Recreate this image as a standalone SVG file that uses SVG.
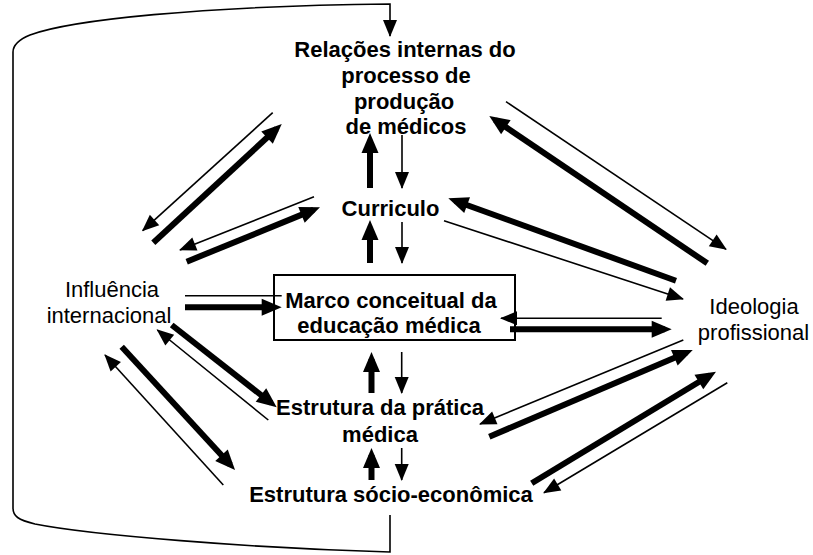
<svg xmlns="http://www.w3.org/2000/svg" width="813" height="555" viewBox="0 0 813 555">
<style>
text{font-family:"Liberation Sans",Arial,sans-serif;font-size:22px;fill:#000;text-anchor:middle}
.b{font-weight:bold}
.thick{stroke:#000;stroke-width:6;fill:none;marker-end:url(#hk)}
.thin{stroke:#000;stroke-width:1.6;fill:none;marker-end:url(#hn)}
.plain{stroke:#000;stroke-width:1.6;fill:none}
.box{fill:none;stroke:#000;stroke-width:2}
</style>
<defs>
<marker id="hk" markerUnits="userSpaceOnUse" markerWidth="20" markerHeight="17" refX="13" refY="8.5" orient="auto" overflow="visible">
<path d="M0,0 L20,8.5 L0,17 z" fill="#000"/>
</marker>
<marker id="hn" markerUnits="userSpaceOnUse" markerWidth="17" markerHeight="14" refX="16" refY="7" orient="auto" overflow="visible">
<path d="M0,0 L17,7 L0,14 z" fill="#000"/>
</marker>
</defs>
<g id="marco">
<rect class="box" x="274" y="275" width="241" height="65"/>
<text class="b" x="391" y="308">Marco conceitual da</text>
<text class="b" x="389" y="333">educação médica</text>
</g>
<g id="connectors">
<path class="thin" d="M390,515 L390,552 C250,548 90,535 35,524 C18,520 13,516 13,508 L13,52 C13,45 18,40 30,35 C70,20 200,6 390,4 L390,36"/>
<line class="thick" x1="370" y1="188" x2="370" y2="140"/>
<line class="thick" x1="370" y1="263" x2="370" y2="227"/>
<line class="thick" x1="371.5" y1="393" x2="371.5" y2="359"/>
<line class="thick" x1="371.5" y1="480" x2="371.5" y2="455"/>
<line class="thin" x1="402" y1="135" x2="402" y2="188"/>
<line class="thin" x1="402" y1="222" x2="402" y2="263"/>
<line class="thin" x1="401.7" y1="352" x2="401.7" y2="393"/>
<line class="thin" x1="401.7" y1="448" x2="401.7" y2="480"/>
<line class="thick" x1="153.3" y1="242.7" x2="276.6" y2="128.8"/>
<line class="thin" x1="272.7" y1="112.7" x2="142.7" y2="230.7"/>
<line class="thick" x1="186.7" y1="261.7" x2="313.5" y2="209.9"/>
<line class="thin" x1="314" y1="196.7" x2="180" y2="250"/>
<line class="plain" x1="185" y1="295.7" x2="281.7" y2="295.7"/>
<line class="thick" x1="185" y1="307.3" x2="274.7" y2="307.3"/>
<line class="thin" x1="661.7" y1="318.3" x2="501" y2="318.3"/>
<line class="thick" x1="510" y1="329.3" x2="664.7" y2="329.3"/>
<line class="thin" x1="506" y1="101.7" x2="726" y2="249.3"/>
<line class="thick" x1="707.3" y1="263.3" x2="495.1" y2="119.9"/>
<line class="thick" x1="676" y1="280.7" x2="454.9" y2="200.7"/>
<line class="thin" x1="444" y1="220.7" x2="683" y2="299"/>
<line class="thin" x1="683.3" y1="340" x2="480" y2="424"/>
<line class="thick" x1="489.3" y1="436.7" x2="686.3" y2="352.7"/>
<line class="thick" x1="531.7" y1="483.3" x2="710" y2="375.3"/>
<line class="thin" x1="727.3" y1="382.7" x2="544" y2="492.7"/>
<line class="thick" x1="171.7" y1="325" x2="271.2" y2="403"/>
<line class="thin" x1="268.3" y1="420" x2="157.3" y2="330"/>
<line class="thick" x1="121.7" y1="346.7" x2="230.3" y2="464.8"/>
<line class="thin" x1="223.3" y1="485" x2="105" y2="355"/>
</g>
<g id="relacoes">
<text class="b" x="405" y="57">Relações internas do</text>
<text class="b" x="406" y="83">processo de</text>
<text class="b" x="404" y="108.5">produção</text>
<text class="b" x="406" y="134">de médicos</text>
</g>
<g id="curriculo">
<text class="b" x="390.5" y="216">Curriculo</text>
</g>
<g id="pratica">
<text class="b" x="380" y="415">Estrutura da prática</text>
<text class="b" x="380" y="441.5">médica</text>
</g>
<g id="socio">
<text class="b" x="391" y="501.5">Estrutura sócio-econômica</text>
</g>
<g id="influencia">
<text x="112" y="296.7">Influência</text>
<text x="109" y="323">internacional</text>
</g>
<g id="ideologia">
<text x="754" y="314">Ideologia</text>
<text x="753.5" y="340">profissional</text>
</g>
</svg>
